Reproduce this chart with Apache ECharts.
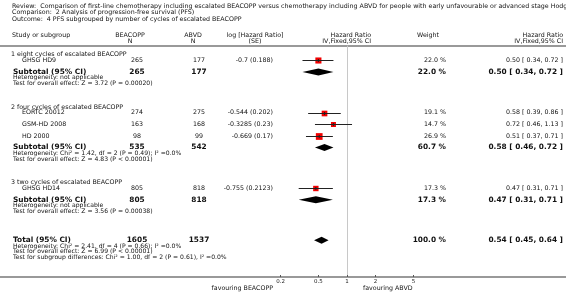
<!DOCTYPE html>
<html>
<head>
<meta charset="utf-8">
<script src="https://cdn.jsdelivr.net/npm/echarts@6/dist/echarts.min.js"></script>
<style>
  html, body { margin: 0; background: #fff; }
  #main { width: 566px; height: 300px; }
</style>
</head>
<body>
<div id="main"></div>
<script>
// ---- data ----
var groupNames = ['1 eight cycles of escalated BEACOPP', '2 four cycles of escalated BEACOPP', '3 two cycles of escalated BEACOPP'];
var studyNames = ['GHSG HD9', 'EORTC 20012', 'GSM-HD 2008', 'HD 2000', 'GHSG HD14'];
var studyGroup = [0, 1, 1, 1, 2];
var beacoppN = [265, 274, 163, 98, 805];
var abvdN = [177, 275, 168, 99, 818];
var logHR = ['-0.7', '-0.544', '-0.3285', '-0.669', '-0.755'];
var logSE = ['0.188', '0.202', '0.23', '0.17', '0.2123'];
var weight = [22.0, 19.1, 14.7, 26.9, 17.3];
var hr = [0.50, 0.58, 0.72, 0.51, 0.47];
var hrLow = [0.34, 0.39, 0.46, 0.37, 0.31];
var hrHigh = [0.72, 0.86, 1.13, 0.71, 0.71];

var subBeacoppN = [265, 535, 805];
var subAbvdN = [177, 542, 818];
var subWeight = [22.0, 60.7, 17.3];
var subHR = [0.50, 0.58, 0.47];
var subLow = [0.34, 0.46, 0.31];
var subHigh = [0.72, 0.72, 0.71];
var subHet = ['Heterogeneity: not applicable', 'Heterogeneity: Chi\u00b2 = 1.42, df = 2 (P = 0.49); I\u00b2 =0.0%', 'Heterogeneity: not applicable'];
var subTest = ['Test for overall effect: Z = 3.72 (P = 0.00020)', 'Test for overall effect: Z = 4.83 (P < 0.00001)', 'Test for overall effect: Z = 3.56 (P = 0.00038)'];

var totalBeacoppN = 1605;
var totalAbvdN = 1537;
var totalWeight = 100.0;
var totalHR = [0.54, 0.45, 0.64];
var totalNotes = ['Heterogeneity: Chi\u00b2 = 2.41, df = 4 (P = 0.66); I\u00b2 =0.0%', 'Test for overall effect: Z = 6.99 (P < 0.00001)', 'Test for subgroup differences: Chi\u00b2 = 1.00, df = 2 (P = 0.61), I\u00b2 =0.0%'];

var axisTicks = [0.2, 0.5, 1, 2, 5];

// ---- layout ----
var FONT = '"DejaVu Sans", sans-serif';
var fonts = {
  t: '6.3px ' + FONT,
  n: '6.3px ' + FONT,
  s: '6.1px ' + FONT,
  b: 'bold 7.4px ' + FONT
};
var X = { group: 11, name: 22, sub: 13, nB: 137, nA: 199, lhr: 273, w: 446, ci: 563 };

function f2(v) { return v.toFixed(2); }
function ciText(m, l, h) { return f2(m) + ' [ ' + f2(l) + ', ' + f2(h) + ' ]'; }
function log10(v) { return Math.log(v) / Math.LN10; }

var rows = [];      // text lines
var boxes = [];     // study marks
var diamonds = [];  // pooled marks
var u = 0;
groupNames.forEach(function (g, gi) {
  if (gi > 0) u += 4;
  rows.push({ y: u, cells: [[g, X.group, 'left', 'n']] });
  u += 1;
  var first = true;
  studyNames.forEach(function (s, i) {
    if (studyGroup[i] !== gi) return;
    if (!first) u += 2;
    first = false;
    rows.push({ y: u, cells: [
      [s, X.name, 'left', 'n'],
      [String(beacoppN[i]), X.nB, 'center', 'n'],
      [String(abvdN[i]), X.nA, 'center', 'n'],
      [logHR[i] + ' (' + logSE[i] + ')', X.lhr, 'right', 'n'],
      [weight[i].toFixed(1) + ' %', X.w, 'right', 'n'],
      [ciText(hr[i], hrLow[i], hrHigh[i]), X.ci, 'right', 'n']
    ] });
    boxes.push([log10(hr[i]), u, log10(hrLow[i]), log10(hrHigh[i]), weight[i]]);
  });
  u += 2;
  rows.push({ y: u, cells: [
    ['Subtotal (95% CI)', X.sub, 'left', 'b'],
    [String(subBeacoppN[gi]), X.nB, 'center', 'b'],
    [String(subAbvdN[gi]), X.nA, 'center', 'b'],
    [subWeight[gi].toFixed(1) + ' %', X.w, 'right', 'b'],
    [ciText(subHR[gi], subLow[gi], subHigh[gi]), X.ci, 'right', 'b']
  ] });
  diamonds.push([log10(subHR[gi]), u, log10(subLow[gi]), log10(subHigh[gi])]);
  u += 1;
  rows.push({ y: u, cells: [[subHet[gi], X.sub, 'left', 's']] });
  u += 1;
  rows.push({ y: u, cells: [[subTest[gi], X.sub, 'left', 's']] });
});
u += 5;
rows.push({ y: u, cells: [
  ['Total (95% CI)', X.sub, 'left', 'b'],
  [String(totalBeacoppN), X.nB, 'center', 'b'],
  [String(totalAbvdN), X.nA, 'center', 'b'],
  [totalWeight.toFixed(1) + ' %', X.w, 'right', 'b'],
  [ciText(totalHR[0], totalHR[1], totalHR[2]), X.ci, 'right', 'b']
] });
diamonds.push([log10(totalHR[0]), u, log10(totalHR[1]), log10(totalHR[2])]);
totalNotes.forEach(function (t) {
  u += 1;
  rows.push({ y: u, cells: [[t, X.sub, 'left', 's']] });
});

function txt(text, x, y, font, align) {
  return {
    type: 'text', x: x, y: y, silent: true,
    style: { text: text, font: font, fill: '#111', textAlign: align || 'left', align: align || 'left',
             textVerticalAlign: 'middle', verticalAlign: 'middle' }
  };
}

var chart = echarts.init(document.getElementById('main'), null, { renderer: 'canvas' });

var option = {
  backgroundColor: '#fff',
  animation: false,
  grid: { left: 252, width: 190, top: 46, bottom: 23, containLabel: false },
  xAxis: {
    type: 'value', min: -1, max: 1,
    axisLine: { show: false, onZero: false },
    splitLine: { show: false },
    axisTick: { show: true, inside: true, length: 2, customValues: axisTicks.map(log10), lineStyle: { color: '#555' } },
    axisLabel: {
      customValues: axisTicks.map(log10), margin: 2,
      fontFamily: 'DejaVu Sans', fontSize: 5.5, color: '#222',
      formatter: function (v) { return String(+Math.pow(10, v).toFixed(2)); }
    }
  },
  yAxis: {
    type: 'value', inverse: true, min: -1.5, max: 38.33,
    axisLine: { show: true, onZero: true, lineStyle: { color: '#c8c8c8', width: 1 } },
    axisTick: { show: false }, axisLabel: { show: false }, splitLine: { show: false }
  },
  graphic: [
    txt('Review:  Comparison of first-line chemotherapy including escalated BEACOPP versus chemotherapy including ABVD for people with early unfavourable or advanced stage Hodgkin lymphoma', 12, 6, fonts.t),
    txt('Comparison:  2 Analysis of progression-free survival (PFS)', 12, 12, fonts.t),
    txt('Outcome:  4 PFS subgrouped by number of cycles of escalated BEACOPP', 12, 19, fonts.t),
    txt('Study or subgroup', 12, 35, fonts.n),
    txt('BEACOPP', 130, 35, fonts.n, 'center'),
    txt('N', 130, 41, fonts.n, 'center'),
    txt('ABVD', 193, 35, fonts.n, 'center'),
    txt('N', 193, 41, fonts.n, 'center'),
    txt('log [Hazard Ratio]', 255, 35, fonts.n, 'center'),
    txt('(SE)', 255, 41, fonts.n, 'center'),
    txt('Hazard Ratio', 371, 35, fonts.n, 'right'),
    txt('IV,Fixed,95% CI', 371, 41, fonts.n, 'right'),
    txt('Weight', 428, 35, fonts.n, 'center'),
    txt('Hazard Ratio', 563, 35, fonts.n, 'right'),
    txt('IV,Fixed,95% CI', 563, 41, fonts.n, 'right'),
    { type: 'line', silent: true, shape: { x1: 0, y1: 46, x2: 566, y2: 46 }, style: { stroke: '#999', lineWidth: 2 } },
    { type: 'line', silent: true, shape: { x1: 0, y1: 277, x2: 566, y2: 277 }, style: { stroke: '#999', lineWidth: 2 } },
    txt('favouring BEACOPP', 273, 288, fonts.n, 'right'),
    txt('favouring ABVD', 363, 288, fonts.n, 'left')
  ],
  series: [
    {
      type: 'custom', name: 'table',
      data: rows.map(function (r, i) { return [0, r.y, i]; }),
      encode: { x: 0, y: 1 },
      renderItem: function (params, api) {
        var r = rows[params.dataIndex];
        var y = api.coord([0, r.y])[1];
        return {
          type: 'group',
          children: r.cells.map(function (c) { return txt(c[0], c[1], y, fonts[c[3]], c[2]); })
        };
      }
    },
    {
      type: 'custom', name: 'studies',
      data: boxes,
      encode: { x: 0, y: 1 },
      renderItem: function (params, api) {
        var p = api.coord([api.value(0), api.value(1)]);
        var lo = api.coord([api.value(2), api.value(1)]);
        var hi = api.coord([api.value(3), api.value(1)]);
        var s = 1.3 * Math.sqrt(api.value(4));
        var y = Math.round(p[1]) + 0.5;
        return {
          type: 'group',
          children: [
            { type: 'rect', shape: { x: p[0] - s / 2, y: y - s / 2, width: s, height: s }, style: { fill: '#f00000' } },
            { type: 'line', shape: { x1: lo[0], y1: y, x2: hi[0], y2: y }, style: { stroke: '#222', lineWidth: 1 } },
            { type: 'line', shape: { x1: p[0], y1: y - 1.5, x2: p[0], y2: y + 1.5 }, style: { stroke: '#222', lineWidth: 1 } }
          ]
        };
      }
    },
    {
      type: 'custom', name: 'pooled',
      data: diamonds,
      encode: { x: 0, y: 1 },
      renderItem: function (params, api) {
        var p = api.coord([api.value(0), api.value(1)]);
        var lo = api.coord([api.value(2), api.value(1)]);
        var hi = api.coord([api.value(3), api.value(1)]);
        return {
          type: 'polygon',
          shape: { points: [[lo[0], p[1]], [p[0], p[1] - 3.5], [hi[0], p[1]], [p[0], p[1] + 3.5]] },
          style: { fill: '#000' }
        };
      }
    }
  ]
};

chart.setOption(option);
</script>
</body>
</html>
